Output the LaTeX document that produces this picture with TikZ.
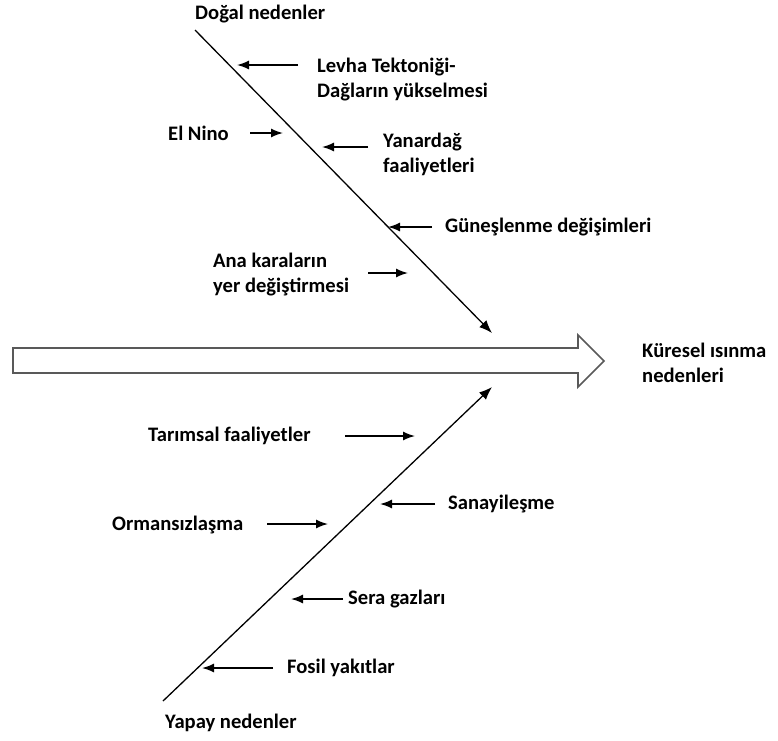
\documentclass[tikz,border=0pt]{standalone}
\usepackage{fontspec}
\setmainfont{Carlito}
\usetikzlibrary{arrows.meta}
\tikzstyle{cause}=[anchor=west,inner sep=0pt,align=left,font=\bfseries\fontsize{20.6}{25}\selectfont]
\tikzstyle{bone}=[draw,line width=1.3pt,-{Latex[length=13pt,width=10pt]}]
\tikzstyle{arrow}=[draw,line width=1.5pt,-{Latex[length=12pt,width=9pt]}]
\tikzstyle{spine}=[draw=black!65,line width=1.7pt,fill=white,line join=miter]

\begin{document}
\begin{tikzpicture}[x=1pt,y=-1pt]
    \useasboundingbox (0,0) rectangle (778,740);
    % spine
    \path[spine] (13,348) -- (578,348) -- (578,335) -- (604,361) -- (578,387) -- (578,373) -- (13,373) -- cycle;
    \node[cause] (sonuc) at (642,363) {Küresel ısınma\\nedenleri};
    % bones
    \coordinate (ust) at (195,30);
    \coordinate (ustuc) at (492,333);
    \coordinate (alt) at (163,701);
    \coordinate (altuc) at (492,387);
    \path[bone] (ust) -- (ustuc);
    \path[bone] (alt) -- (altuc);
    \node[cause] (dogal) at (195,14) {Doğal nedenler};
    \node[cause] (yapay) at (165,723) {Yapay nedenler};
    % causes
    \foreach \pos/\name/\text in {{(317,80)/levha/Levha Tektoniği-\\Dağların yükselmesi}, {(168,133)/elnino/El Nino}, {(383,154)/yanardag/Yanardağ\\faaliyetleri}, {(445,227)/gunes/Güneşlenme değişimleri}, {(213,275)/kara/Ana karaların\\yer değiştirmesi}, {(148,436)/tarim/Tarımsal faaliyetler}, {(448,504)/sanayi/Sanayileşme}, {(112,525)/orman/Ormansızlaşma}, {(348,599)/sera/Sera gazları}, {(287,668)/fosil/Fosil yakıtlar}}
        \node[cause] (\name) at \pos {\text};
    \foreach \name/\from/\to/\y in {levha/298/237/65, elnino/250/283/133, yanardag/368/322/147, gunes/432/388/227, kara/368/408/273, tarim/345/415/436, sanayi/435/380/504, orman/267/328/524, sera/343/291/599, fosil/273/202/668}
    {
        \coordinate (\name-k) at (\from,\y);
        \coordinate (\name-u) at (\to,\y);
        \path[arrow] (\name-k) -- (\name-u);
    }
\end{tikzpicture}
\end{document}
